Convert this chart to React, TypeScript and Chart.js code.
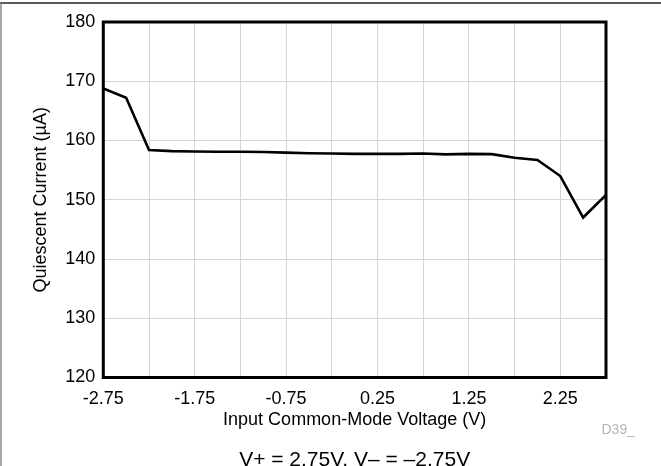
import React, { useEffect, useRef } from "react";
import { Chart, registerables } from "chart.js";

Chart.register(...registerables);

const voltages = [
  -2.75, -2.5, -2.25, -2.0, -1.75, -1.5, -1.25, -1.0, -0.75, -0.5, -0.25, 0.0,
  0.25, 0.5, 0.75, 1.0, 1.25, 1.5, 1.75, 2.0, 2.25, 2.5, 2.75,
];
const quiescentCurrent = [
  168.8, 167.2, 158.4, 158.2, 158.15, 158.1, 158.1, 158.05, 157.95, 157.85,
  157.8, 157.75, 157.75, 157.75, 157.8, 157.65, 157.75, 157.7, 157.1, 156.7,
  154.0, 147.0, 150.8,
];
const xTicks = [-2.75, -2.25, -1.75, -1.25, -0.75, -0.25, 0.25, 0.75, 1.25, 1.75, 2.25, 2.75];
const xTickLabels = ["-2.75", "", "-1.75", "", "-0.75", "", "0.25", "", "1.25", "", "2.25", ""];
const yTicks = [120, 130, 140, 150, 160, 170, 180];

const xTitle = "Input Common-Mode Voltage (V)";
const yTitle = "Quiescent Current (\u00b5A)";
const footnote = "V+ = 2.75V, V\u2013 = \u20132.75V";
const figId = "D39_";

const FONT = "'Liberation Sans', Arial, Helvetica, sans-serif";

export default function App() {
  const ref = useRef<HTMLCanvasElement | null>(null);

  useEffect(() => {
    document.body.style.margin = "0";
    const canvas = ref.current;
    if (!canvas) return;

    const decor = {
      id: "decor",
      afterDraw(chart: any) {
        const { ctx, chartArea } = chart;
        const { left, right, top, bottom } = chartArea;
        ctx.save();
        // outer frame lines
        ctx.strokeStyle = "#222";
        ctx.lineWidth = 1.5;
        ctx.beginPath();
        ctx.moveTo(0, 3);
        ctx.lineTo(661, 3);
        ctx.stroke();
        ctx.strokeStyle = "#888";
        ctx.beginPath();
        ctx.moveTo(1, 3);
        ctx.lineTo(1, 466);
        ctx.stroke();
        // plot box
        ctx.strokeStyle = "#000";
        ctx.lineWidth = 3;
        ctx.strokeRect(left, top, right - left, bottom - top);
        // footnote
        ctx.fillStyle = "#000";
        ctx.font = `21px ${FONT}`;
        ctx.textAlign = "center";
        ctx.textBaseline = "alphabetic";
        ctx.fillText(footnote, (left + right) / 2, 465.5);
        // figure id
        ctx.fillStyle = "#b5b5b5";
        ctx.font = `14px ${FONT}`;
        ctx.textAlign = "left";
        ctx.fillText(figId, 601.5, 433.5);
        ctx.restore();
      },
    };

    const chart = new Chart(canvas, {
      type: "line",
      data: {
        datasets: [
          {
            data: voltages.map((v, i) => ({ x: v, y: quiescentCurrent[i] })),
            borderColor: "#000",
            borderWidth: 2.6,
            pointRadius: 0,
            tension: 0,
            fill: false,
          },
        ],
      },
      options: {
        animation: false,
        responsive: false,
        devicePixelRatio: 1,
        layout: { padding: { left: 26, top: 22, right: 55, bottom: 31 } },
        plugins: { legend: { display: false }, tooltip: { enabled: false } },
        scales: {
          x: {
            type: "linear",
            min: -2.75,
            max: 2.75,
            afterBuildTicks: (scale: any) => {
              scale.ticks = xTicks.map((v) => ({ value: v }));
            },
            afterFit: (scale: any) => {
              scale.height = 57.5;
            },
            grid: { color: "#d6d6d6", lineWidth: 1, drawTicks: false },
            border: { display: false },
            ticks: {
              autoSkip: false,
              maxRotation: 0,
              padding: 11,
              color: "#000",
              font: { family: FONT, size: 18 },
              callback: (_v: any, i: number) => xTickLabels[i],
            },
            title: {
              display: true,
              text: xTitle,
              color: "#000",
              font: { family: FONT, size: 18 },
              padding: { top: 4, bottom: 4 },
            },
          },
          y: {
            min: 120,
            max: 180,
            afterBuildTicks: (scale: any) => {
              scale.ticks = yTicks.map((v) => ({ value: v }));
            },
            afterFit: (scale: any) => {
              scale.width = 77.3;
            },
            grid: { color: "#d6d6d6", lineWidth: 1, drawTicks: false },
            border: { display: false },
            ticks: {
              padding: 8,
              color: "#000",
              font: { family: FONT, size: 18 },
              callback: (v: any) => String(v),
            },
            title: {
              display: true,
              text: yTitle,
              color: "#000",
              font: { family: FONT, size: 18 },
              padding: { top: 4, bottom: 4 },
            },
          },
        },
      },
      plugins: [decor],
    });

    return () => chart.destroy();
  }, []);

  return (
    <canvas
      ref={ref}
      width={661}
      height={466}
      style={{ display: "block", width: 661, height: 466 }}
    />
  );
}
